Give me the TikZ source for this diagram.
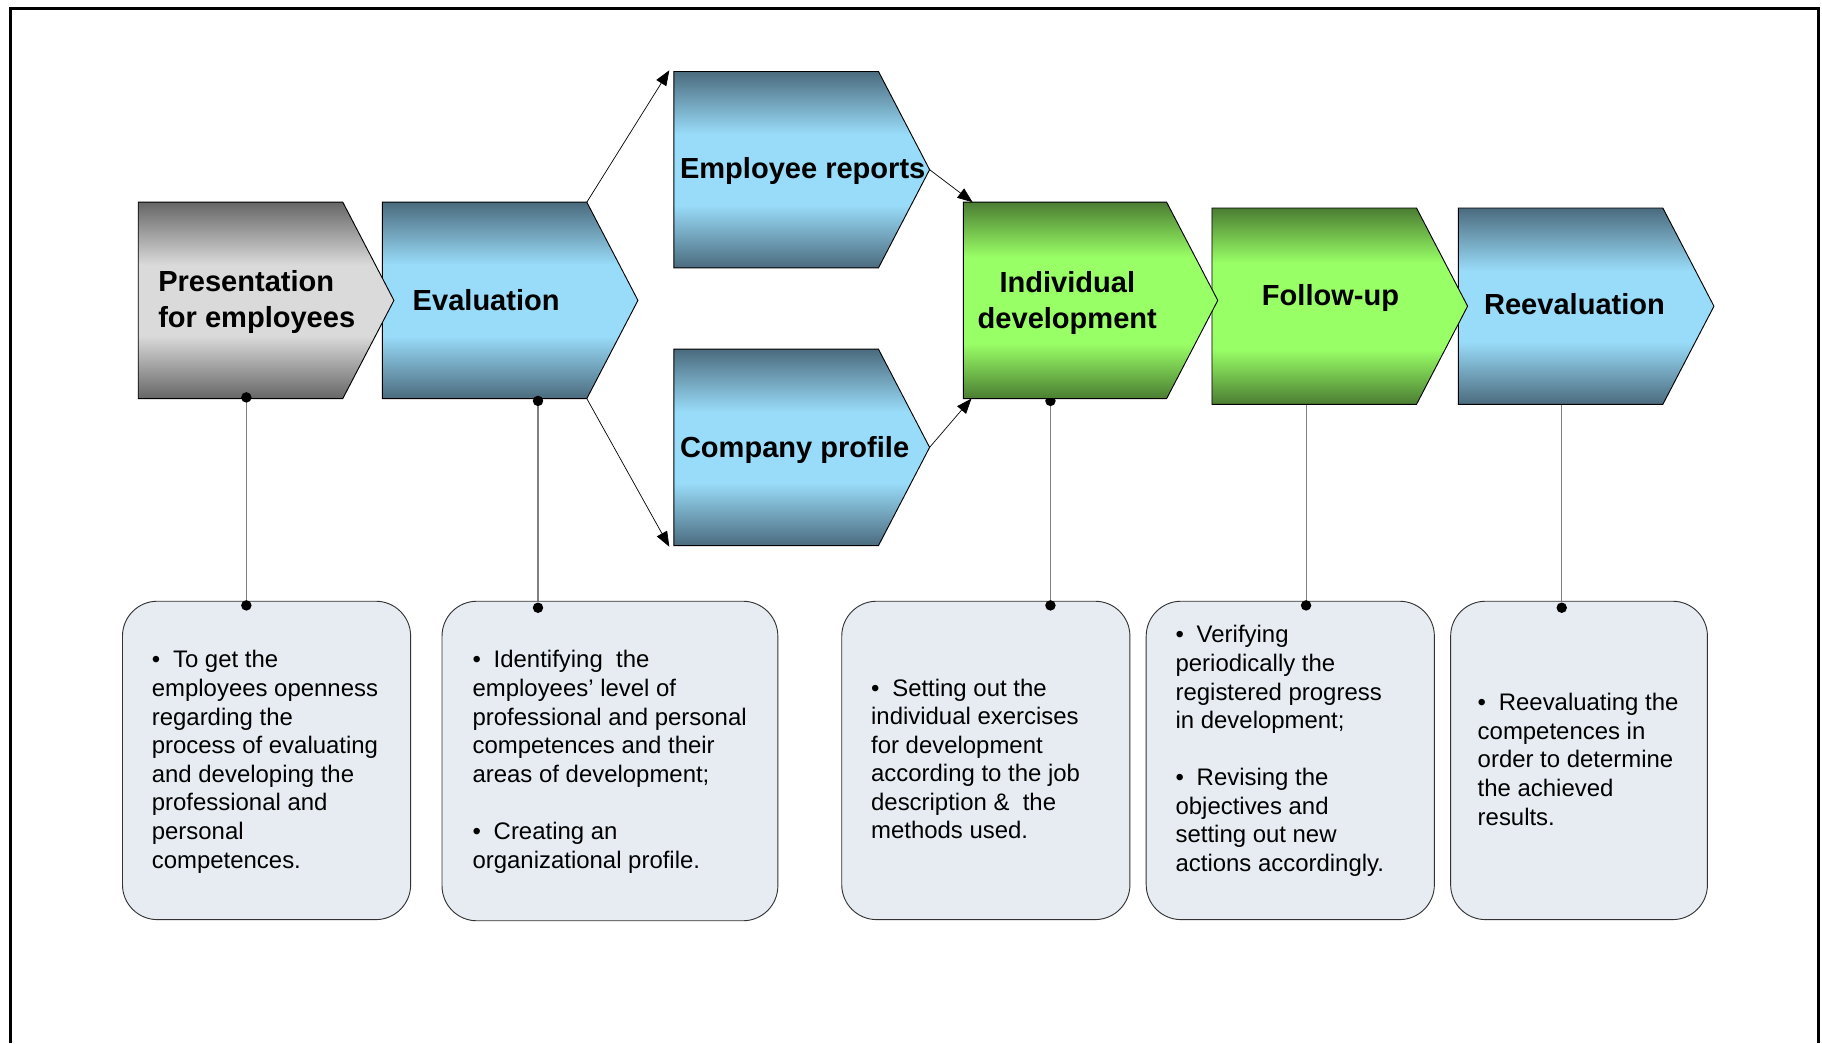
\documentclass[tikz,border=0pt]{standalone}
\usepackage{fontspec}
\setmainfont{Liberation Sans}
\usetikzlibrary{shapes.symbols,arrows.meta,calc}

\definecolor{bluedark}{HTML}{4B6B7E}
\definecolor{bluelight}{HTML}{99DCF9}
\definecolor{graydark}{HTML}{666666}
\definecolor{graylight}{HTML}{DADADA}
\definecolor{greendark}{HTML}{4B7D32}
\definecolor{greenlight}{HTML}{99FF66}
\definecolor{notefill}{HTML}{E6ECF2}

\pgfdeclareverticalshading{blueband}{100bp}{color(0bp)=(bluedark); color(25bp)=(bluedark); color(41bp)=(bluelight); color(59bp)=(bluelight); color(75bp)=(bluedark); color(100bp)=(bluedark)}
\pgfdeclareverticalshading{grayband}{100bp}{color(0bp)=(graydark); color(25bp)=(graydark); color(41bp)=(graylight); color(59bp)=(graylight); color(75bp)=(graydark); color(100bp)=(graydark)}
\pgfdeclareverticalshading{greenband}{100bp}{color(0bp)=(greendark); color(25bp)=(greendark); color(39bp)=(greenlight); color(61bp)=(greenlight); color(75bp)=(greendark); color(100bp)=(greendark)}

\tikzset{
  stage/.style={signal, signal to=east, signal pointer angle=125, draw=black, line width=0.8pt,
    minimum width=220pt, minimum height=169pt, inner sep=0pt, outer sep=0pt, anchor=west, shade},
  head/.style={font=\fontsize{25}{30.5}\selectfont\bfseries, inner sep=0pt},
  note/.style={draw=black!80, fill=notefill, rounded corners=30pt, line width=0.8pt,
    inner sep=0pt, anchor=north west},
  notetext/.style={font=\fontsize{20.6}{24.6}\selectfont, align=left, anchor=base west, inner sep=0pt},
  pin/.style={circle, fill=black, inner sep=0pt, minimum size=9pt},
  stem/.style={draw=black!50, line width=0.9pt},
  link/.style={-{Triangle[length=13pt,width=10pt]}, line width=0.6pt},
}

\begin{document}
\begin{tikzpicture}[x=1pt, y=-1pt]
    \useasboundingbox (0,0) rectangle (1568,898);
    \draw[line width=2.5pt] (9,898) -- (9,7) -- (1565,7) -- (1565,898);

    % stems first, the stages cover their upper ends
    \coordinate (pres-pin) at (212,342);
    \coordinate (b1-pin) at (212,521);
    \coordinate (eval-pin) at (463,345);
    \coordinate (b2-pin) at (463,523);
    \coordinate (ind-pin) at (904,345);
    \coordinate (b3-pin) at (904,521);
    \coordinate (fol-pin) at (1124,348);
    \coordinate (b4-pin) at (1124,521);
    \coordinate (reev-pin) at (1344,348);
    \coordinate (b5-pin) at (1344,523);
    \draw[stem] (pres-pin) -- (b1-pin);
    \draw[stem] (eval-pin) -- (b2-pin);
    \draw[stem] (ind-pin) -- (b3-pin);
    \draw[stem] (fol-pin) -- (b4-pin);
    \draw[stem] (reev-pin) -- (b5-pin);
    \node[pin] (ind-dot) at (ind-pin) {};

    % stages, later ones first so the tips lie on top
    \node[stage, shading=blueband] (reev) at (1255,263.5) {};
    \node[stage, shading=greenband] (fol) at (1043,263.5) {};
    \node[stage, shading=greenband, minimum width=219pt] (ind) at (829,258.5) {};
    \node[stage, shading=blueband] (comp) at (580,385) {};
    \node[stage, shading=blueband] (emp) at (580,146) {};
    \node[stage, shading=blueband] (eval) at (329,258.5) {};
    \node[stage, shading=grayband] (pres) at (119,258.5) {};

    % multi-line texts sit on the baseline of their last line
    \node[head, align=left, anchor=base west] (pres-txt) at (136,281.5) {Presentation\\for employees};
    \node[head, anchor=base west] (eval-txt) at (355,267) {Evaluation};
    \node[head, anchor=base west] (emp-txt) at (585,154) {Employee reports};
    \node[head, anchor=base west] (comp-txt) at (585,394) {Company profile};
    \node[head, align=center, anchor=base] (ind-txt) at (918.5,282.5) {Individual\\development};
    \node[head, anchor=base] (fol-txt) at (1145,263) {Follow-up};
    \node[head, anchor=base] (reev-txt) at (1355,271) {Reevaluation};

    \draw[link] ($(eval.north west)+(176,0)$) -- ([xshift=-4pt,yshift=1pt]emp.north west);
    \draw[link] ($(eval.south west)+(176,0)$) -- ([xshift=-4pt,yshift=-1pt]comp.south west);
    \draw[link] (emp.east) -- ([xshift=8pt]ind.north west);
    \draw[link] (comp.east) -- ([xshift=7pt]ind.south west);

    % notes
    \node[note, minimum width=248pt, minimum height=274pt] (b1) at (105,517) {};
    \node[note, minimum width=289pt, minimum height=275pt] (b2) at (380,517) {};
    \node[note, minimum width=248pt, minimum height=274pt] (b3) at (724,517) {};
    \node[note, minimum width=248pt, minimum height=274pt] (b4) at (986,517) {};
    \node[note, minimum width=221pt, minimum height=274pt] (b5) at (1248,517) {};

    \node[pin] (pres-dot) at (pres-pin) {};
    \node[pin] (eval-dot) at (eval-pin) {};
    \node[pin] (b1-dot) at (b1-pin) {};
    \node[pin] (b2-dot) at (b2-pin) {};
    \node[pin] (b3-dot) at (b3-pin) {};
    \node[pin] (b4-dot) at (b4-pin) {};
    \node[pin] (b5-dot) at (b5-pin) {};

    \node[notetext] (b1-txt) at (130.5,747) {\textbullet\hspace{11pt}To get the\\employees openness\\regarding the\\process of evaluating\\and developing the\\professional and\\personal\\competences.};
    \node[notetext] (b2-txt) at (406.5,747) {\textbullet\hspace{11pt}Identifying\ \ the\\employees’ level of\\professional and personal\\competences and their\\areas of development;\\[24.6pt]\textbullet\hspace{11pt}Creating an\\organizational profile.};
    \node[notetext] (b3-txt) at (749.5,722) {\textbullet\hspace{11pt}Setting out the\\individual exercises\\for development\\according to the job\\description \&\ \ the\\methods used.};
    \node[notetext] (b4-txt) at (1011.5,750) {\textbullet\hspace{11pt}Verifying\\periodically the\\registered progress\\in development;\\[24.6pt]\textbullet\hspace{11pt}Revising the\\objectives and\\setting out new\\actions accordingly.};
    \node[notetext] (b5-txt) at (1271.5,710) {\textbullet\hspace{11pt}Reevaluating the\\competences in\\order to determine\\the achieved\\results.};
\end{tikzpicture}
\end{document}
